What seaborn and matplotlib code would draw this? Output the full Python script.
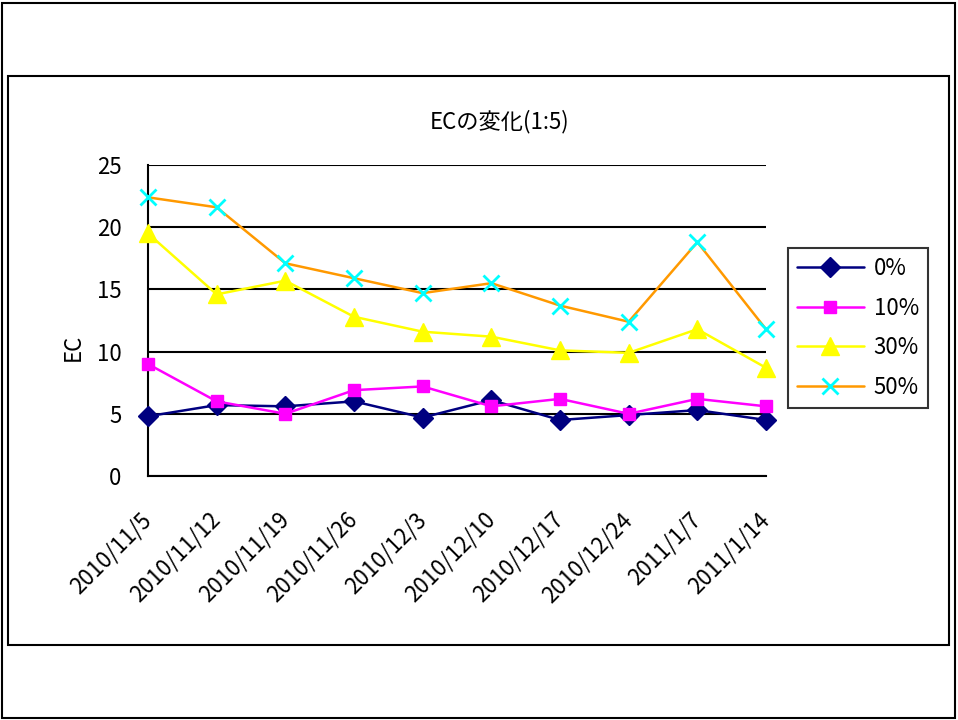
import matplotlib
matplotlib.use("Agg")
import matplotlib.pyplot as plt
from matplotlib.patches import Rectangle
import seaborn as sns
import pandas as pd

dates = ["2010/11/5", "2010/11/12", "2010/11/19", "2010/11/26", "2010/12/3",
         "2010/12/10", "2010/12/17", "2010/12/24", "2011/1/7", "2011/1/14"]
s0 = [4.8, 5.7, 5.6, 6.0, 4.7, 6.1, 4.5, 4.9, 5.3, 4.5]
s10 = [9.0, 6.0, 5.0, 6.9, 7.2, 5.6, 6.2, 5.0, 6.2, 5.6]
s30 = [19.5, 14.6, 15.7, 12.8, 11.6, 11.2, 10.1, 9.9, 11.8, 8.7]
s50 = [22.4, 21.6, 17.1, 15.9, 14.7, 15.5, 13.7, 12.4, 18.8, 11.8]
series_names = ["0%", "10%", "30%", "50%"]
yticks = [0, 5, 10, 15, 20, 25]

sns.set_style("white")
plt.rcParams['font.family'] = ['Noto Sans CJK JP', 'DejaVu Sans']
plt.rcParams['text.color'] = 'black'
plt.rcParams['axes.labelcolor'] = 'black'
plt.rcParams['xtick.color'] = 'black'
plt.rcParams['ytick.color'] = 'black'

FS = 16

fig = plt.figure(figsize=(9.58, 7.2), dpi=100)
ax = fig.add_axes([148/958, 1-476/720, 618/958, 311/720])

x = list(range(len(dates)))
styles = [
    dict(color="#000080", marker="D", markersize=10, markeredgecolor="#000080", markeredgewidth=1),
    dict(color="#FF00FF", marker="s", markersize=9, markeredgecolor="#FF00FF", markeredgewidth=1),
    dict(color="#FFFF00", marker="^", markersize=12.5, markeredgecolor="#FFFF00", markeredgewidth=1),
    dict(color="#FF9900", marker="x", markersize=11.5, markeredgecolor="#00FFFF", markeredgewidth=2),
]
for name, vals, st in zip(series_names, [s0, s10, s30, s50], styles):
    df = pd.DataFrame({"x": x, "y": vals})
    sns.lineplot(data=df, x="x", y="y", ax=ax, linewidth=1.8, label=name,
                 clip_on=False, zorder=3, **st)

ax.set_xlim(0, 9)
ax.set_ylim(0, 25)
ax.set_yticks(yticks)
ax.set_xticks(x)
ax.set_xticklabels(dates, rotation=45, ha="right", va="center", rotation_mode="anchor")
ax.tick_params(axis="x", direction="in", length=6, width=1.5, color="black", pad=29, labelsize=FS)
ax.tick_params(axis="y", direction="in", length=0, pad=19, labelsize=FS)
ax.grid(axis="y", color="black", linewidth=1.5)
ax.set_axisbelow(True)
for sp in ["top", "right"]:
    ax.spines[sp].set_visible(False)
for sp in ["left", "bottom"]:
    ax.spines[sp].set_color("black")
    ax.spines[sp].set_linewidth(1.5)
    ax.spines[sp].set_zorder(2.5)

ax.set_xlabel("")
ax.set_ylabel("EC", fontsize=FS)
ax.yaxis.set_label_coords(-0.102, 0.415)

fig.text(500/958, 1-122/720, "ECの変化(1:5)", ha="center", va="center", fontsize=FS)

leg = ax.legend(loc="upper left", bbox_to_anchor=(788/958, 1-248/720),
                bbox_transform=fig.transFigure, fontsize=FS, frameon=True,
                fancybox=False, handlelength=3.0, handletextpad=0.45,
                labelspacing=0.75, borderpad=0.4, borderaxespad=0)
leg.get_frame().set_edgecolor("black")
leg.get_frame().set_linewidth(1.5)

fig.patches.append(Rectangle((2/958, 2/720), 953/958, 715/720, transform=fig.transFigure,
                             fill=False, edgecolor="black", linewidth=1.5))
fig.patches.append(Rectangle((8/958, 1-645/720), 941/958, 569/720, transform=fig.transFigure,
                             fill=False, edgecolor="black", linewidth=1.5))

fig.savefig("out.png", dpi=100)
